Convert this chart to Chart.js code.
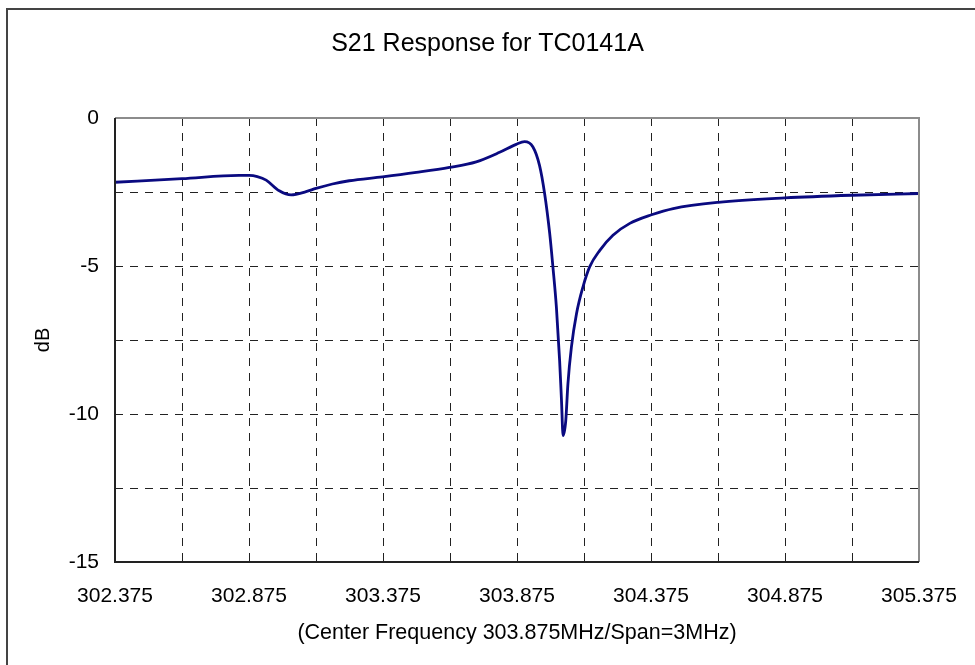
<!DOCTYPE html>
<html>
<head>
<meta charset="utf-8">
<script src="https://cdn.jsdelivr.net/npm/chart.js@4/dist/chart.umd.min.js"></script>
<style>
  html, body { margin: 0; padding: 0; background: #fff; }
  #wrap { width: 975px; height: 665px; position: relative; }
</style>
</head>
<body>
<div id="wrap"><canvas id="s21Chart" width="975" height="665"></canvas></div>
<script>
// ─── Data ──────────────────────────────────────────────────────
const freqMHz = [
  302.375, 302.625, 302.838, 302.876, 302.906, 302.939, 302.988, 303.032,
  303.088, 303.125, 303.186, 303.249, 303.373, 303.499, 303.623, 303.723,
  303.810, 303.872, 303.903, 303.934, 303.959, 303.978, 303.997, 304.009,
  304.022, 304.034, 304.041, 304.047, 304.057, 304.065, 304.078, 304.097,
  304.121, 304.146, 304.184, 304.233, 304.296, 304.377, 304.458, 304.626,
  304.875, 305.124, 305.375
];
const s21dB = [
  -2.17, -2.05, -1.94, -1.94, -1.98, -2.10, -2.46, -2.60,
  -2.49, -2.38, -2.23, -2.12, -1.99, -1.84, -1.67, -1.48,
  -1.16, -0.89, -0.80, -0.97, -1.60, -2.55, -3.90, -5.03,
  -6.39, -8.19, -9.54, -10.73, -10.22, -8.98, -7.74, -6.61,
  -5.71, -5.03, -4.47, -3.96, -3.56, -3.27, -3.06, -2.85,
  -2.70, -2.61, -2.55
];
const xTickValues = [
  302.375, 302.625, 302.875, 303.125, 303.375, 303.625, 303.875,
  304.125, 304.375, 304.625, 304.875, 305.125, 305.375
];
const yTickValues = [0, -2.5, -5, -7.5, -10, -12.5, -15];
const xLabeled = [302.375, 302.875, 303.375, 303.875, 304.375, 304.875, 305.375];
const yLabeled = [0, -5, -10, -15];
const chartTitle = 'S21 Response for TC0141A';

const FONT = "'Liberation Sans', Arial, sans-serif";

// ─── Frame plugin: outer border, title, plot box ───────────────
const framePlugin = {
  id: 'frame',
  beforeDraw(chart) {
    const c = chart.ctx;
    c.save();
    c.fillStyle = '#fff';
    c.fillRect(0, 0, chart.width, chart.height);
    c.strokeStyle = '#444';
    c.lineWidth = 2;
    c.beginPath();
    c.moveTo(7, chart.height);
    c.lineTo(7, 9);
    c.lineTo(chart.width, 9);
    c.stroke();
    c.fillStyle = '#000';
    c.font = '25px ' + FONT;
    c.textAlign = 'center';
    c.textBaseline = 'middle';
    c.fillText(chartTitle, chart.width / 2, 44);
    c.restore();
  },
  afterDraw(chart) {
    const a = chart.chartArea;
    const c = chart.ctx;
    c.save();
    c.lineWidth = 2;
    c.strokeStyle = '#8c8c8c';
    c.beginPath();
    c.moveTo(a.left, a.top);
    c.lineTo(a.right, a.top);
    c.lineTo(a.right, a.bottom);
    c.stroke();
    c.strokeStyle = '#222';
    c.beginPath();
    c.moveTo(a.left, a.top);
    c.lineTo(a.left, a.bottom);
    c.lineTo(a.right, a.bottom);
    c.stroke();
    c.restore();
  }
};

const points = freqMHz.map((f, i) => ({ x: f, y: s21dB[i] }));

new Chart(document.getElementById('s21Chart'), {
  type: 'line',
  data: {
    datasets: [{
      data: points,
      borderColor: '#0a0a80',
      borderWidth: 2.8,
      pointRadius: 0,
      fill: false,
      cubicInterpolationMode: 'monotone'
    }]
  },
  options: {
    responsive: false,
    animation: false,
    events: [],
    layout: { padding: { left: 27, right: 56, top: 118, bottom: 15 } },
    plugins: {
      legend: { display: false },
      tooltip: { enabled: false },
      title: { display: false }
    },
    scales: {
      x: {
        type: 'linear',
        min: 302.375,
        max: 305.375,
        afterFit(scale) {
          scale.height = 88;
          scale.paddingLeft = 0;
          scale.paddingRight = 0;
        },
        afterBuildTicks(scale) { scale.ticks = xTickValues.map(v => ({ value: v })); },
        grid: {
          color: '#222',
          lineWidth: 1,
          drawTicks: false
        },
        border: { display: false, dash: [8, 7] },
        ticks: {
          autoSkip: false,
          maxRotation: 0,
          padding: 22,
          color: '#000',
          font: { family: FONT, size: 21 },
          callback: v => xLabeled.some(t => Math.abs(t - v) < 1e-6) ? v.toFixed(3) : ''
        },
        title: {
          display: true,
          text: '(Center Frequency 303.875MHz/Span=3MHz)',
          color: '#000',
          font: { family: FONT, size: 21.5 },
          padding: { top: 4, bottom: 4 }
        }
      },
      y: {
        min: -15,
        max: 0,
        afterFit(scale) {
          scale.width = 88;
          scale.paddingTop = 0;
          scale.paddingBottom = 0;
        },
        afterBuildTicks(scale) { scale.ticks = yTickValues.map(v => ({ value: v })); },
        grid: {
          color: '#222',
          lineWidth: 1,
          drawTicks: false
        },
        border: { display: false, dash: [8, 7] },
        ticks: {
          autoSkip: false,
          padding: 16,
          color: '#000',
          font: { family: FONT, size: 21 },
          callback: v => yLabeled.includes(v) ? String(v) : ''
        },
        title: {
          display: true,
          text: 'dB',
          color: '#000',
          font: { family: FONT, size: 20 },
          padding: { top: 4, bottom: 4 }
        }
      }
    }
  },
  plugins: [framePlugin]
});
</script>
</body>
</html>
